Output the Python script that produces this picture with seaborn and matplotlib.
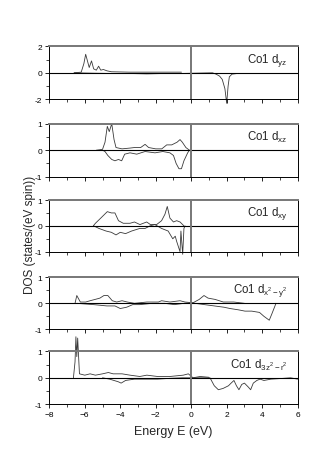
import matplotlib
matplotlib.use('Agg')
import matplotlib.pyplot as plt
import seaborn as sns
from matplotlib.ticker import MultipleLocator

# Co1 d-orbital projected DOS, spin up (>0) and spin down (<0)
dyz_up_e = [-6.6, -6.2, -6.05, -5.95, -5.85, -5.75, -5.62, -5.5, -5.35, -5.22, -5.1, -4.95, -4.75, -4.5, -3.5, -2.5, -1.5, -0.55]
dyz_up = [0, 0.05, 0.7, 1.4, 0.9, 0.4, 0.9, 0.3, 0.2, 0.5, 0.2, 0.25, 0.15, 0.08, 0.05, 0.05, 0.05, 0.05]
dyz_dn_e = [-6.6, -5.5, -4.5, -3.5, -2.5, -1.5, -0.55, 1.2, 1.4, 1.6, 1.75, 1.9, 2.0, 2.08, 2.15, 2.3, 2.6, 3.0, 3.3]
dyz_dn = [0, -0.03, -0.05, -0.05, -0.08, -0.05, -0.05, 0, -0.1, -0.25, -0.5, -1.2, -2.3, -1.0, -0.3, -0.1, -0.05, -0.05, -0.05]

dxz_up_e = [-5.35, -5.0, -4.86, -4.73, -4.62, -4.48, -4.35, -4.24, -3.9, -3.45, -3.2, -2.85, -2.6, -2.4, -2.0, -1.66, -1.38, -1.1, -0.8, -0.63, -0.5, -0.3, -0.1]
dxz_up = [0, 0.03, 0.3, 0.9, 0.7, 1.0, 0.4, 0.1, 0.05, 0.08, 0.1, 0.1, 0.22, 0.1, 0.05, 0.05, 0.2, 0.2, 0.3, 0.4, 0.3, 0.1, 0]
dxz_dn_e = [-5.0, -4.86, -4.7, -4.48, -4.3, -4.1, -3.92, -3.75, -3.45, -3.07, -2.6, -2.04, -1.6, -1.2, -1.0, -0.85, -0.69, -0.55, -0.41, -0.2, -0.1]
dxz_dn = [0, -0.05, -0.2, -0.35, -0.4, -0.35, -0.4, -0.15, -0.1, -0.15, -0.05, -0.1, -0.05, -0.1, -0.2, -0.5, -0.7, -0.7, -0.4, -0.1, 0]

dxy_up_e = [-5.52, -5.4, -5.1, -4.73, -4.5, -4.3, -4.1, -3.83, -3.45, -3.2, -2.89, -2.51, -2.3, -1.95, -1.67, -1.48, -1.35, -1.2, -1.0, -0.82, -0.63, -0.41]
dxy_up = [0, 0.1, 0.3, 0.55, 0.5, 0.5, 0.2, 0.1, 0.1, 0.15, 0.05, 0.15, 0.05, 0.05, 0.2, 0.45, 0.75, 0.3, 0.15, 0.2, 0.15, 0]
dxy_dn_e = [-5.5, -5.2, -4.8, -4.5, -4.24, -4.0, -3.7, -3.36, -2.9, -2.6, -2.32, -2.05, -1.67, -1.3, -1.04, -0.9, -0.82, -0.63, -0.58, -0.48, -0.41, -0.35]
dxy_dn = [0, -0.1, -0.2, -0.25, -0.35, -0.25, -0.3, -0.2, -0.1, -0.1, 0, 0.05, -0.1, -0.2, -0.5, -0.4, -0.6, -1.0, -0.2, -1.1, -0.1, 0]

dx2y2_up_e = [-6.55, -6.45, -6.25, -5.95, -5.7, -5.42, -5.15, -4.92, -4.7, -4.45, -4.2, -3.9, -3.6, -3.2, -2.5, -2.1, -1.85, -1.67, -1.2, -0.63, -0.35, 0.1, 0.45, 0.72, 0.95, 1.35, 1.81, 2.4, 3.0]
dx2y2_up = [0, 0.3, 0.05, 0.05, 0.1, 0.15, 0.2, 0.3, 0.3, 0.1, 0.05, 0.1, 0.05, 0, 0.05, 0.05, 0.05, 0.1, 0.05, 0.1, 0.05, 0.02, 0.15, 0.3, 0.2, 0.15, 0.05, 0.05, 0]
dx2y2_dn_e = [-6.45, -5.5, -4.75, -4.3, -4.0, -3.64, -3.3, -2.9, -2.2, -1.5, -0.95, -0.4, 0.0, 0.75, 1.3, 1.85, 2.19, 2.66, 3.03, 3.41, 3.85, 4.1, 4.4, 4.55, 4.78]
dx2y2_dn = [0, -0.05, -0.1, -0.1, -0.2, -0.15, -0.05, -0.05, 0, 0, -0.05, 0, 0.02, -0.05, -0.1, -0.15, -0.2, -0.25, -0.3, -0.3, -0.35, -0.5, -0.65, -0.4, 0]

dz2_up_e = [-6.64, -6.55, -6.5, -6.45, -6.4, -6.3, -6.0, -5.7, -5.4, -5.0, -4.67, -4.4, -3.9, -3.45, -2.9, -2.5, -1.9, -1.2, -0.45, -0.16, 0.1, 0.5, 1.0]
dz2_up = [0, 0.6, 1.55, 0.8, 1.5, 0.15, 0.1, 0.15, 0.1, 0.15, 0.2, 0.15, 0.15, 0.1, 0.05, 0.1, 0.05, 0.05, 0.1, 0.15, 0, 0.05, 0.02]
dz2_dn_e = [-5.0, -4.6, -4.11, -3.95, -3.7, -3.2, -2.5, -1.9, -1.2, -0.5, 0.0, 0.8, 1.06, 1.3, 1.53, 1.8, 2.1, 2.25, 2.41, 2.55, 2.69, 2.85, 3.0, 3.22, 3.35, 3.5, 3.7, 3.88, 4.1, 4.5, 5.2, 5.6, 6.0]
dz2_dn = [0, -0.05, -0.15, -0.2, -0.1, -0.05, -0.05, -0.05, -0.02, 0, 0, 0, 0, -0.3, -0.45, -0.4, -0.3, -0.2, -0.1, -0.3, -0.45, -0.25, -0.2, -0.35, -0.45, -0.2, -0.1, -0.05, -0.1, -0.05, -0.02, 0, -0.05]

labels = [r'Co1 d$_{yz}$', r'Co1 d$_{xz}$', r'Co1 d$_{xy}$',
          r'Co1 d$_{x^2-y^2}$', r'Co1 d$_{3z^2-r^2}$']
ylims = [2, 1, 1, 1, 1]

panels = [
    (dyz_up_e, dyz_up, dyz_dn_e, dyz_dn),
    (dxz_up_e, dxz_up, dxz_dn_e, dxz_dn),
    (dxy_up_e, dxy_up, dxy_dn_e, dxy_dn),
    (dx2y2_up_e, dx2y2_up, dx2y2_dn_e, dx2y2_dn),
    (dz2_up_e, dz2_up, dz2_dn_e, dz2_dn),
]

sns.set_style('ticks')
plt.rcParams['font.family'] = ['Liberation Sans', 'DejaVu Sans']
plt.rcParams['mathtext.fontset'] = 'custom'
plt.rcParams['mathtext.rm'] = 'Liberation Sans'
plt.rcParams['mathtext.it'] = 'Liberation Sans'
plt.rcParams['mathtext.default'] = 'regular'

fig = plt.figure(figsize=(3.32, 4.77), dpi=100)

# panel boxes in figure fractions (left, bottom, width, height)
boxes = [
    (0.1485, 0.7897, 0.748, 0.1111),
    (0.1485, 0.6275, 0.748, 0.1111),
    (0.1485, 0.4702, 0.748, 0.1084),
    (0.1485, 0.3075, 0.748, 0.1090),
    (0.1485, 0.1503, 0.748, 0.1111),
]

line_col = '#3a3a3a'
for i, (box, data, lab, lim) in enumerate(zip(boxes, panels, labels, ylims)):
    ax = fig.add_axes(box)
    up_e, up, dn_e, dn = data
    sns.lineplot(x=up_e, y=up, ax=ax, color=line_col, lw=0.6,
                 estimator=None, sort=False)
    sns.lineplot(x=dn_e, y=dn, ax=ax, color=line_col, lw=0.6,
                 estimator=None, sort=False)
    for ln in ax.lines:
        ln.set_clip_on(False)
    ax.axhline(0, color='black', lw=0.8, zorder=3)
    ax.axvline(0, color='#777777', lw=1.4, zorder=3)
    ax.set_xlim(-8, 6)
    ax.set_ylim(-lim, lim)
    ax.xaxis.set_major_locator(MultipleLocator(2))
    ax.xaxis.set_minor_locator(MultipleLocator(1))
    ax.yaxis.set_major_locator(MultipleLocator(lim))
    ax.yaxis.set_minor_locator(MultipleLocator(lim / 2))
    ax.tick_params(axis='both', which='major', direction='out', length=3,
                   width=0.6, labelsize=6, pad=2, colors='black')
    ax.tick_params(axis='both', which='minor', direction='out', length=2,
                   width=0.6)
    ax.set_yticks([-lim, 0, lim])
    ax.set_yticklabels([str(-lim), '0', str(lim)])
    for side in ['left', 'right', 'bottom']:
        ax.spines[side].set_color('black')
        ax.spines[side].set_linewidth(0.7)
    ax.spines['top'].set_color('#777777')
    ax.spines['top'].set_linewidth(1.4)
    ax.text(0.96, 0.76, lab, transform=ax.transAxes, ha='right', va='center',
            fontsize=8.3)
    if i < 4:
        ax.set_xticklabels([])
    else:
        ax.set_xlabel('Energy E (eV)', fontsize=9, labelpad=5)

fig.text(0.09, 0.507, 'DOS (states/(eV spin))', rotation=90, ha='center',
         va='center', fontsize=8.5)

fig.savefig('out.png', dpi=100)
